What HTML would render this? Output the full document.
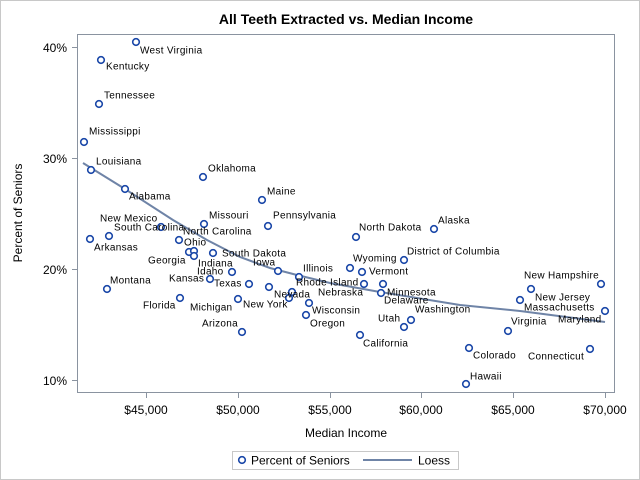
<!DOCTYPE html>
<html><head><meta charset="utf-8"><style>
html,body{margin:0;padding:0;background:#fff}
svg{display:block;font-family:"Liberation Sans",Arial,sans-serif}
.l{font-size:10px;fill:#000;dominant-baseline:middle;letter-spacing:0.3px}
.t{font-size:12px;fill:#000}
</style></head><body>
<svg width="640" height="480" viewBox="0 0 640 480" xmlns="http://www.w3.org/2000/svg">
<rect x="0.5" y="0.5" width="639" height="479" fill="#fff" stroke="#c8c8c8"/>
<text x="346" y="24" text-anchor="middle" style="font-size:14px;font-weight:bold">All Teeth Extracted vs. Median Income</text>
<rect x="77.5" y="34.5" width="537" height="358" fill="#fff" stroke="#8a93a0"/>
<g stroke="#8a93a0">
<line x1="72" y1="47.5" x2="77" y2="47.5"/><line x1="72" y1="158.5" x2="77" y2="158.5"/><line x1="72" y1="269.5" x2="77" y2="269.5"/><line x1="72" y1="380.5" x2="77" y2="380.5"/>
<line x1="146.5" y1="393" x2="146.5" y2="398"/><line x1="238.5" y1="393" x2="238.5" y2="398"/><line x1="330.5" y1="393" x2="330.5" y2="398"/><line x1="421.5" y1="393" x2="421.5" y2="398"/><line x1="513.5" y1="393" x2="513.5" y2="398"/><line x1="605.5" y1="393" x2="605.5" y2="398"/>
</g>
<g class="t" text-anchor="end">
<text x="67" y="52">40%</text><text x="67" y="163">30%</text><text x="67" y="274">20%</text><text x="67" y="385">10%</text>
</g>
<g class="t" text-anchor="middle">
<text x="146" y="414">$45,000</text><text x="238" y="414">$50,000</text><text x="330" y="414">$55,000</text><text x="421" y="414">$60,000</text><text x="513" y="414">$65,000</text><text x="605" y="414">$70,000</text>
</g>
<text x="346" y="437" text-anchor="middle" class="t">Median Income</text>
<text transform="translate(22,213) rotate(-90)" text-anchor="middle" class="t">Percent of Seniors</text>
<polyline fill="none" stroke="#6f84a7" stroke-width="2" points="83,163 125,189 173,220 207,240 240,257 270,268 297,275 330,283 380,292 460,305 520,311 605,322"/>
<g fill="#fff" stroke="#1a47a8" stroke-width="1.6">
<circle cx="136" cy="42" r="3.3"/><circle cx="101" cy="60" r="3.3"/><circle cx="99" cy="104" r="3.3"/><circle cx="84" cy="142" r="3.3"/><circle cx="91" cy="170" r="3.3"/><circle cx="125" cy="189" r="3.3"/><circle cx="203" cy="177" r="3.3"/><circle cx="262" cy="200" r="3.3"/><circle cx="204" cy="224" r="3.3"/><circle cx="268" cy="226" r="3.3"/><circle cx="161" cy="227" r="3.3"/><circle cx="109" cy="236" r="3.3"/><circle cx="90" cy="239" r="3.3"/><circle cx="179" cy="240" r="3.3"/><circle cx="189" cy="252" r="3.3"/><circle cx="194" cy="251" r="3.3"/><circle cx="194" cy="256" r="3.3"/><circle cx="213" cy="253" r="3.3"/><circle cx="232" cy="272" r="3.3"/><circle cx="210" cy="279" r="3.3"/><circle cx="249" cy="284" r="3.3"/><circle cx="269" cy="287" r="3.3"/><circle cx="180" cy="298" r="3.3"/><circle cx="238" cy="299" r="3.3"/><circle cx="242" cy="332" r="3.3"/><circle cx="278" cy="271" r="3.3"/><circle cx="299" cy="277" r="3.3"/><circle cx="292" cy="292" r="3.3"/><circle cx="289" cy="298" r="3.3"/><circle cx="309" cy="303" r="3.3"/><circle cx="306" cy="315" r="3.3"/><circle cx="107" cy="289" r="3.3"/>
<circle cx="356" cy="237" r="3.3"/><circle cx="434" cy="229" r="3.3"/><circle cx="404" cy="260" r="3.3"/><circle cx="350" cy="268" r="3.3"/><circle cx="362" cy="272" r="3.3"/><circle cx="364" cy="284" r="3.3"/><circle cx="383" cy="284" r="3.3"/><circle cx="381" cy="293" r="3.3"/><circle cx="411" cy="320" r="3.3"/><circle cx="404" cy="327" r="3.3"/><circle cx="360" cy="335" r="3.3"/>
<circle cx="601" cy="284" r="3.3"/><circle cx="531" cy="289" r="3.3"/><circle cx="520" cy="300" r="3.3"/><circle cx="605" cy="311" r="3.3"/><circle cx="508" cy="331" r="3.3"/><circle cx="469" cy="348" r="3.3"/><circle cx="590" cy="349" r="3.3"/><circle cx="466" cy="384" r="3.3"/>
</g>
<g class="l">
<text x="140" y="51">West Virginia</text><text x="106" y="67">Kentucky</text><text x="104" y="96">Tennessee</text><text x="89" y="132">Mississippi</text><text x="96" y="162">Louisiana</text><text x="129" y="197">Alabama</text><text x="208" y="169">Oklahoma</text><text x="267" y="192">Maine</text><text x="209" y="216">Missouri</text><text x="273" y="216">Pennsylvania</text><text x="100" y="219">New Mexico</text><text x="114" y="228">South Carolina</text><text x="183" y="232">North Carolina</text><text x="94" y="248">Arkansas</text><text x="184" y="243">Ohio</text><text x="148" y="261">Georgia</text><text x="222" y="254">South Dakota</text><text x="198" y="264">Indiana</text><text x="253" y="263">Iowa</text><text x="197" y="272">Idaho</text><text x="169" y="279">Kansas</text><text x="214" y="284">Texas</text><text x="110" y="281">Montana</text><text x="143" y="306">Florida</text><text x="190" y="308">Michigan</text><text x="243" y="305">New York</text><text x="202" y="324">Arizona</text>
<text x="303" y="269">Illinois</text><text x="296" y="283">Rhode Island</text><text x="318" y="293">Nebraska</text><text x="274" y="295">Nevada</text><text x="312" y="311">Wisconsin</text><text x="310" y="324">Oregon</text>
<text x="359" y="228">North Dakota</text><text x="438" y="221">Alaska</text><text x="407" y="252">District of Columbia</text><text x="353" y="259">Wyoming</text><text x="369" y="272">Vermont</text><text x="387" y="293">Minnesota</text><text x="384" y="301">Delaware</text><text x="378" y="319">Utah</text><text x="415" y="310">Washington</text><text x="363" y="344">California</text>
<text x="524" y="276">New Hampshire</text><text x="535" y="298">New Jersey</text><text x="524" y="308">Massachusetts</text><text x="558" y="320">Maryland</text><text x="511" y="322">Virginia</text><text x="473" y="356">Colorado</text><text x="528" y="357">Connecticut</text><text x="470" y="377">Hawaii</text>
</g>
<rect x="232.5" y="451.5" width="226" height="18" fill="#fff" stroke="#c8c8c8"/>
<circle cx="242" cy="460" r="3.3" fill="#fff" stroke="#1a47a8" stroke-width="1.6"/>
<text x="251" y="464.5" class="t">Percent of Seniors</text>
<line x1="363" y1="460" x2="412" y2="460" stroke="#6f84a7" stroke-width="2"/>
<text x="418" y="464.5" class="t">Loess</text>
</svg>
</body></html>
